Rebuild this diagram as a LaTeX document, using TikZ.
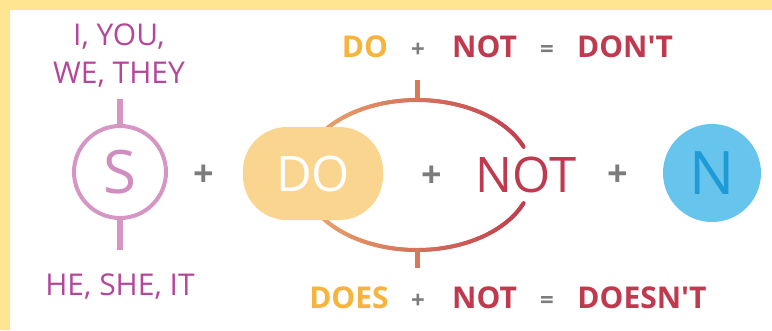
\documentclass[tikz,border=0pt]{standalone}
\usepackage{fontspec}
\setmainfont{Open Sans}
\definecolor{bordery}{HTML}{FFE591}
\definecolor{subj}{HTML}{B5479A}
\definecolor{scirc}{HTML}{D596C4}
\definecolor{sletter}{HTML}{D18DBF}
\definecolor{doorange}{HTML}{F6B43C}
\definecolor{doblob}{HTML}{FAD58F}
\definecolor{arcorange}{HTML}{EDAA6A}
\definecolor{notred}{HTML}{BF3A4E}
\definecolor{plusgray}{HTML}{7C7C7C}
\definecolor{nblue}{HTML}{67C4ED}
\definecolor{ntext}{HTML}{1E9AD6}
\begin{document}
\begin{tikzpicture}[x=1pt,y=-1pt,
  lbl/.style={anchor=base, text=subj, inner sep=0, font=\fontsize{30}{30}\selectfont},
  bigplus/.style={text=plusgray, inner sep=0, font=\bfseries\fontsize{36}{36}\selectfont},
  fdo/.style={anchor=base, text=doorange, inner sep=0, font=\bfseries\fontsize{30}{30}\selectfont},
  fnot/.style={anchor=base, text=notred, inner sep=0, font=\bfseries\fontsize{30}{30}\selectfont},
  fop/.style={anchor=base, text=plusgray, inner sep=0, font=\bfseries\fontsize{24}{24}\selectfont},
  stem/.style={draw=scirc, line width=6pt},
  tickmark/.style={draw=notred!45!arcorange, line width=5pt}
]
\useasboundingbox (0,0) rectangle (772,330);
\fill[bordery] (0,0) rectangle (772,330);
\fill[white] (10,10) rectangle (772,330);

% subject
\node[circle, draw=scirc, line width=4pt, minimum size=92pt, inner sep=0,
      text=sletter, font=\fontsize{60}{60}\selectfont] (s) at (120,172) {S};
\coordinate (sTop) at (120,99);
\coordinate (sBot) at (120,250);
\draw[stem] (s.north) -- (sTop);
\draw[stem] (s.south) -- (sBot);
\node[lbl] (l1) at (119,45) {I, YOU,};
\node[lbl] (l2) at (119,83) {WE, THEY};
\node[lbl] (l3) at (120,295) {HE, SHE, IT};

\node[bigplus] (p1) at (204,176) {+};

% gradient ellipse
\foreach \a in {22,23,...,337} {
  \pgfmathsetmacro\b{\a+1}
  \pgfmathsetmacro\p{(cos(\a+0.5)+1)*50}
  \draw[line width=4pt, line cap=round, color=notred!\p!arcorange]
    ({417+115*cos(\a)},{175-75*sin(\a)}) -- ({417+115*cos(\b)},{175-75*sin(\b)});
}
\coordinate (tt1) at (417,80);
\coordinate (tt2) at (417,101);
\coordinate (tb1) at (417,249);
\coordinate (tb2) at (417,268);
\draw[tickmark] (tt1) -- (tt2);
\draw[tickmark] (tb1) -- (tb2);

% DO blob
\node[fill=doblob, minimum width=140pt, minimum height=93pt, rounded corners=44pt,
      inner sep=0, text=white, font=\fontsize{49}{49}\selectfont] (do) at (313,173.5) {DO};

\node[bigplus] (p2) at (432,177) {+};
\node[text=notred, inner sep=0, font=\fontsize{49}{49}\selectfont] (not) at (526,174.5) {NOT};
\node[bigplus] (p3) at (618,176) {+};

\node[circle, fill=nblue, minimum size=98pt, inner sep=0,
      text=ntext, font=\fontsize{60}{60}\selectfont] (n) at (712,173) {N};

% formulas
\node[fdo]  (t1) at (365,57) {DO};
\node[fop]  (t2) at (418,57) {+};
\node[fnot] (t3) at (484.5,57) {NOT};
\node[fop]  (t4) at (547,57) {=};
\node[fnot] (t5) at (625,57) {DON\textquotesingle T};

\node[fdo]  (b1) at (349,308) {DOES};
\node[fop]  (b2) at (418,308) {+};
\node[fnot] (b3) at (484.5,308) {NOT};
\node[fop]  (b4) at (547,308) {=};
\node[fnot] (b5) at (642,308) {DOESN\textquotesingle T};
\end{tikzpicture}
\end{document}
